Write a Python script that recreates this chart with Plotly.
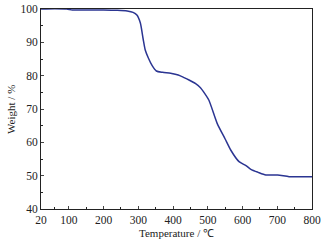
import plotly.graph_objects as go

temperature = [20, 60, 94, 110, 150, 200, 240, 268, 285, 296, 306, 314, 320, 329, 340, 352, 370, 393, 415, 430, 446, 465, 479, 487, 503, 527, 550, 566, 590, 610, 624, 645, 667, 701, 734, 770, 800]
weight = [100.0, 100.1, 100.0, 99.7, 99.7, 99.7, 99.6, 99.4, 99.0, 98.2, 95.8, 91.0, 87.7, 85.3, 83.0, 81.4, 81.0, 80.7, 80.2, 79.5, 78.7, 77.6, 76.4, 75.3, 72.7, 65.7, 61.0, 57.7, 54.2, 53.0, 51.9, 51.0, 50.2, 50.2, 49.7, 49.7, 49.7]

x_ticks = [20, 100, 200, 300, 400, 500, 600, 700, 800]
y_ticks = [40, 50, 60, 70, 80, 90, 100]
x_title = "Temperature / ℃"
y_title = "Weight / %"

fig = go.Figure()
fig.add_trace(go.Scatter(x=temperature, y=weight, mode="lines",
                         line=dict(color="#2b3592", width=1.5, shape="spline", smoothing=0.6),
                         showlegend=False, hoverinfo="skip"))

font = dict(family="Liberation Serif, Times New Roman, serif", size=11.5, color="#222")
tfont = dict(family="Liberation Serif, Times New Roman, serif", size=11, color="#222")

fig.update_layout(
    width=324, height=247,
    margin=dict(l=41, r=12, t=9, b=38),
    paper_bgcolor="white", plot_bgcolor="white",
    font=font,
    xaxis=dict(range=[20, 800], tickvals=x_ticks, ticks="inside", ticklen=3,
               showgrid=False, zeroline=False, showline=True, linecolor="#222",
               linewidth=1, mirror=True, automargin=False,
               minor=dict(tickvals=[60, 150, 250, 350, 450, 550, 650, 750], ticks="inside", ticklen=2, tickcolor="#222")),
    yaxis=dict(range=[40, 100], tickvals=y_ticks, ticks="inside", ticklen=3,
               showgrid=False, zeroline=False, showline=True, linecolor="#222",
               linewidth=1, mirror=True, automargin=False,
               minor=dict(tickvals=[45, 55, 65, 75, 85, 95], ticks="inside", ticklen=2, tickcolor="#222")),
    annotations=[
        dict(text=x_title, xref="paper", yref="paper", x=0.5, y=-0.08, yanchor="top",
             xanchor="center", showarrow=False, font=tfont),
        dict(text=y_title, xref="paper", yref="paper", x=-0.111, y=0.5, xanchor="center",
             yanchor="middle", textangle=-90, showarrow=False, font=tfont),
    ],
)

fig.write_html("out.html", config={"displayModeBar": False},
               post_script="document.body.style.margin='0';document.body.style.overflow='hidden';")
